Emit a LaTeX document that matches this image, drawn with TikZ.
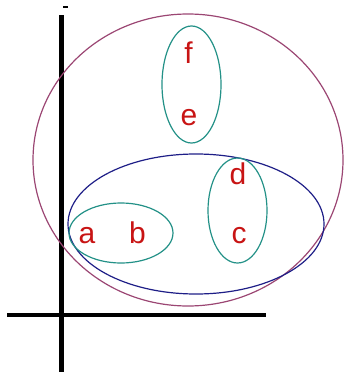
\documentclass[tikz,border=0pt]{standalone}
\usepackage{fontspec}
\setmainfont{Liberation Sans}
\begin{document}
\begin{tikzpicture}[x=1pt,y=-1pt,
  axisline/.style={line width=4.5pt,black},
  outerring/.style={draw=outercol,line width=1.2pt},
  midring/.style={draw=midcol,line width=1.2pt},
  innerring/.style={draw=innercol,line width=1.2pt},
  letter/.style={text=lettercol,font=\fontsize{30}{30}\selectfont,anchor=base,inner sep=0pt}]
\definecolor{outercol}{RGB}{155,70,115}
\definecolor{midcol}{RGB}{30,30,135}
\definecolor{innercol}{RGB}{35,145,135}
\definecolor{lettercol}{RGB}{200,20,20}
\useasboundingbox (0,0) rectangle (345,378);
% axes
\draw[axisline] (61.5,15) -- (61.5,372);
\draw[axisline] (7,315) -- (266,315);
\draw[line width=1.8pt] (63,7) -- (68,7);
% ellipses
\draw[outerring] (188,160) ellipse [x radius=155, y radius=146];
\draw[midring] (196,224) ellipse [x radius=128, y radius=70];
\draw[innerring] (121,233) ellipse [x radius=52, y radius=30];
\draw[innerring] (191.5,84.5) ellipse [x radius=29.5, y radius=58.5];
\draw[innerring] (237.5,210.5) ellipse [x radius=29.5, y radius=52.5];
% letters
\node[letter] (la) at (87,243) {a};
\node[letter] (lb) at (137.5,243) {b};
\node[letter] (lc) at (239,243) {c};
\node[letter] (ld) at (238,184) {d};
\node[letter] (le) at (189,125) {e};
\node[letter] (lf) at (188.5,63) {f};
\end{tikzpicture}
\end{document}
